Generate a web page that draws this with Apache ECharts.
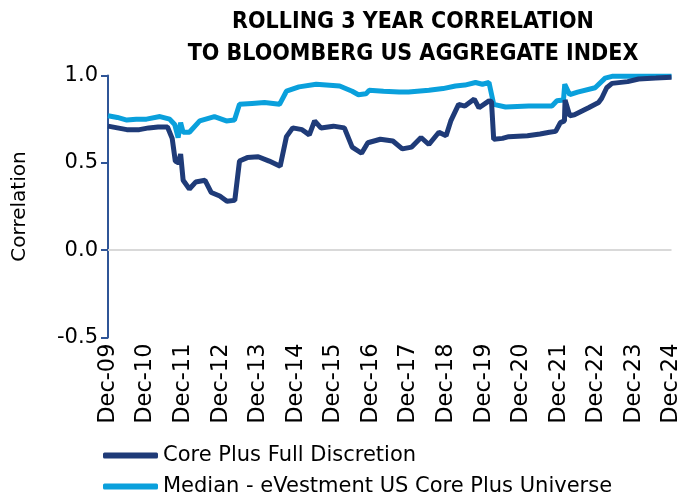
<!DOCTYPE html>
<html>
<head>
<meta charset="utf-8">
<script src="https://cdn.jsdelivr.net/npm/echarts@6/dist/echarts.min.js"></script>
<style>
  html, body { margin: 0; padding: 0; background: #fff; }
  #chart { width: 683px; height: 494px; }
</style>
</head>
<body>
<div id="chart"></div>
<script>
// months counted from Dec-09 (0) to Dec-24 (180)
const coreMonths = [0, 3, 6, 10, 13, 16, 19, 20.5, 21.5, 22.5, 23.2, 24, 26, 28, 31, 33, 35.7, 38, 40.5, 42, 44.5, 48, 51.5, 55, 57, 59, 62, 64.3, 66, 68, 72, 75.5, 78, 81, 83, 87, 91, 94, 97, 100, 102.5, 105.7, 108, 109.5, 112, 114, 117, 118.5, 121.7, 122.5, 123.2, 126, 128, 134, 138, 141, 143, 144.5, 145.8, 146, 147.5, 149, 153.5, 156.7, 157.7, 159.3, 161, 166, 169.5, 175, 180];
const coreValues = [0.71, 0.70, 0.69, 0.69, 0.70, 0.705, 0.705, 0.64, 0.51, 0.50, 0.55, 0.40, 0.35, 0.39, 0.40, 0.33, 0.31, 0.28, 0.285, 0.51, 0.53, 0.535, 0.51, 0.48, 0.65, 0.70, 0.69, 0.66, 0.74, 0.70, 0.71, 0.70, 0.59, 0.555, 0.615, 0.635, 0.625, 0.58, 0.59, 0.645, 0.605, 0.675, 0.655, 0.74, 0.835, 0.825, 0.865, 0.815, 0.855, 0.85, 0.635, 0.64, 0.65, 0.655, 0.665, 0.675, 0.68, 0.73, 0.74, 0.86, 0.77, 0.775, 0.815, 0.845, 0.87, 0.93, 0.955, 0.965, 0.98, 0.985, 0.99];

const medianMonths = [0, 3, 6, 9, 12.3, 16.6, 19.7, 21.3, 22.4, 23.2, 24, 26, 29.3, 34, 37.8, 40.4, 42, 46, 50, 54.8, 57, 61, 66.5, 74, 78, 80, 82.4, 83.4, 88, 93, 96, 102.5, 107, 111, 114, 117.4, 119.6, 121.7, 123.2, 127, 134.4, 141.8, 143.4, 145.5, 145.9, 147.5, 150, 155.6, 158.8, 161, 180];
const medianValues = [0.77, 0.76, 0.745, 0.75, 0.75, 0.765, 0.75, 0.72, 0.645, 0.73, 0.675, 0.675, 0.74, 0.765, 0.74, 0.745, 0.835, 0.84, 0.845, 0.835, 0.91, 0.935, 0.95, 0.94, 0.91, 0.89, 0.895, 0.915, 0.91, 0.905, 0.905, 0.915, 0.925, 0.94, 0.945, 0.96, 0.95, 0.96, 0.835, 0.82, 0.825, 0.825, 0.855, 0.86, 0.95, 0.89, 0.905, 0.93, 0.985, 0.995, 0.995];

const seriesNames = ['Core Plus Full Discretion', 'Median - eVestment US Core Plus Universe'];
const seriesColors = ['#1f3b78', '#0aa0dc'];

const font = 'DejaVu Sans';

function pairs(months, values) {
  return months.map((m, i) => [m, values[i]]);
}

function legendRow(name, top) {
  return {
    left: 98,
    top: top,
    itemWidth: 55,
    itemHeight: 6,
    itemGap: 4,
    icon: 'roundRect',
    textStyle: { fontFamily: font, fontSize: 21, color: '#000' },
    data: [name]
  };
}

const chart = echarts.init(document.getElementById('chart'));

chart.setOption({
  animation: false,
  title: {
    text: 'ROLLING 3 YEAR CORRELATION\nTO BLOOMBERG US AGGREGATE INDEX',
    left: 408,
    top: 1,
    textAlign: 'center',
    textStyle: {
      fontFamily: 'DejaVu Sans Condensed',
      fontWeight: 'bold',
      fontSize: 23,
      lineHeight: 32,
      color: '#000'
    }
  },
  legend: [legendRow(seriesNames[0], 440), legendRow(seriesNames[1], 471)],
  grid: { left: 108, right: 10, top: 75.5, bottom: 156.5 },
  xAxis: {
    type: 'value',
    min: 0,
    max: 180,
    interval: 12,
    axisLine: { show: false, onZero: false },
    axisTick: { show: false },
    splitLine: { show: false },
    axisLabel: {
      rotate: 90,
      margin: 6,
      fontFamily: font,
      fontSize: 22.5,
      color: '#000',
      formatter: (m) => 'Dec-' + String(9 + m / 12).padStart(2, '0')
    }
  },
  yAxis: {
    type: 'value',
    min: -0.5,
    max: 1,
    interval: 0.5,
    name: 'Correlation',
    nameLocation: 'middle',
    nameGap: 78,
    nameTextStyle: { fontFamily: font, fontSize: 20, color: '#000' },
    axisLine: { show: true, lineStyle: { color: '#2f5597', width: 2 } },
    axisTick: { show: true, length: 7, lineStyle: { color: '#2f5597', width: 2 } },
    splitLine: { show: false },
    axisLabel: {
      margin: 10,
      fontFamily: font,
      fontSize: 21,
      color: '#000',
      formatter: (v) => v.toFixed(1)
    }
  },
  series: [
    {
      name: seriesNames[0],
      type: 'line',
      data: pairs(coreMonths, coreValues),
      showSymbol: false,
      z: 3,
      lineStyle: { color: seriesColors[0], width: 5 },
      itemStyle: { color: seriesColors[0] },
      markLine: {
        silent: true,
        symbol: 'none',
        label: { show: false },
        lineStyle: { color: '#d9d9d9', width: 2, type: 'solid' },
        data: [{ yAxis: 0 }],
        z: 1
      }
    },
    {
      name: seriesNames[1],
      type: 'line',
      data: pairs(medianMonths, medianValues),
      showSymbol: false,
      z: 2,
      lineStyle: { color: seriesColors[1], width: 5 },
      itemStyle: { color: seriesColors[1] }
    }
  ]
});
</script>
</body>
</html>
